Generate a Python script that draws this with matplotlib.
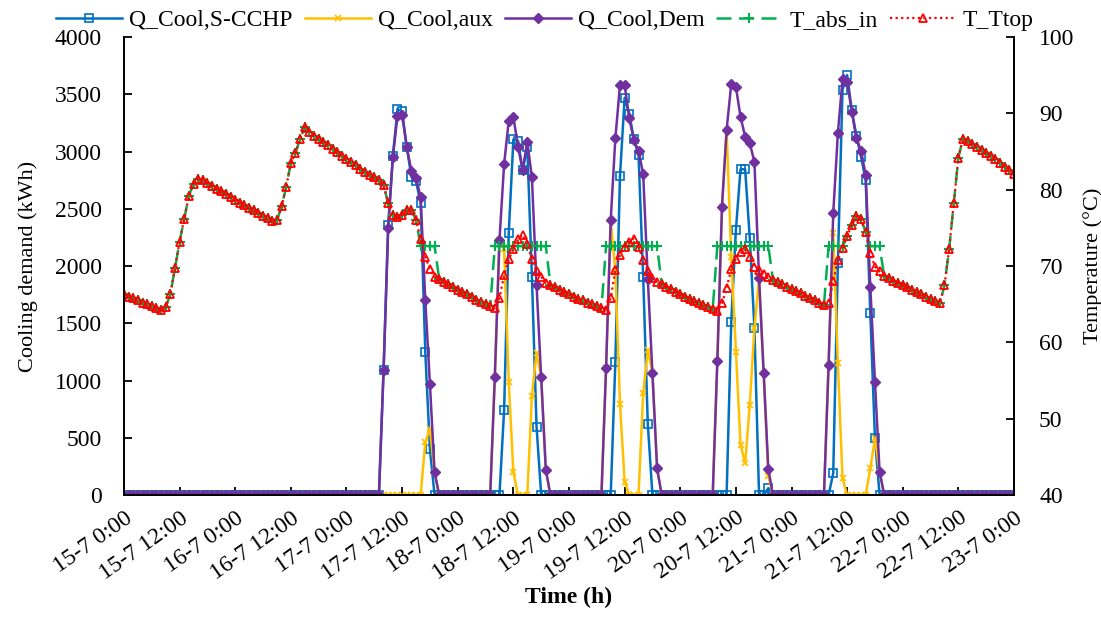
import matplotlib

matplotlib.use("Agg")
import matplotlib.pyplot as plt
import numpy as np

plt.rcParams["font.family"] = ["Liberation Serif", "DejaVu Serif"]

# hourly samples, 15-7 0:00 .. 23-7 0:00
HOURS = np.arange(193)
TICK_HOURS = list(range(0, 193, 12))
TICK_LABELS = [
    "15-7 0:00", "15-7 12:00", "16-7 0:00", "16-7 12:00", "17-7 0:00",
    "17-7 12:00", "18-7 0:00", "18-7 12:00", "19-7 0:00", "19-7 12:00",
    "20-7 0:00", "20-7 12:00", "21-7 0:00", "21-7 12:00", "22-7 0:00",
    "22-7 12:00", "23-7 0:00",
]

# cooling (kWh), operating hours only, zero elsewhere
Q_DEM = ([0] * 56
         + [1090, 2330, 2950, 3310, 3320, 3040, 2830, 2770, 2600, 1700, 970, 200]
         + [0] * 12
         + [1033, 2227, 2888, 3269, 3304, 3042, 2838, 3086, 2775, 1834, 1033, 218]
         + [0] * 12
         + [1112, 2402, 3115, 3581, 3581, 3290, 3100, 3007, 2803, 1890, 1068, 233]
         + [0] * 12
         + [1170, 2518, 3188, 3590, 3566, 3304, 3129, 3071, 2911, 1893, 1063, 224]
         + [0] * 12
         + [1135, 2460, 3159, 3631, 3610, 3348, 3115, 3007, 2795, 1819, 990, 204]
         + [0] * 29)

Q_SCCHP = ([0] * 56
           + [1090, 2360, 2960, 3370, 3350, 3040, 2780, 2740, 2550, 1250, 400, 0]
           + [0] * 12
           + [0, 0, 742, 2285, 3106, 3094, 2838, 3042, 1907, 597, 0, 0]
           + [0] * 12
           + [0, 0, 1164, 2786, 3470, 3330, 3106, 2969, 1907, 620, 0, 0]
           + [0] * 12
           + [0, 0, 0, 1514, 2314, 2845, 2845, 2242, 1456, 0, 0, 60]
           + [0] * 12
           + [0, 190, 2024, 3540, 3668, 3362, 3135, 2955, 2751, 1587, 495, 0]
           + [0] * 29)

Q_AUX = ([0] * 56
         + [0, 0, 0, 0, 0, 0, 0, 0, 0, 460, 580, 200]
         + [0] * 12
         + [1033, 2227, 2146, 990, 200, 0, 0, 0, 868, 1237, 1033, 218]
         + [0] * 12
         + [1112, 2402, 1951, 795, 116, 0, 0, 0, 888, 1266, 1068, 233]
         + [0] * 12
         + [1170, 2518, 3188, 2081, 1252, 440, 277, 790, 1456, 1893, 1063, 164]
         + [0] * 12
         + [1135, 2290, 1150, 146, 0, 0, 0, 0, 0, 232, 495, 204]
         + [0] * 29)

# tank top temperature (°C)
T_TTOP = [
    66.3, 66.0, 65.8, 65.5, 65.2, 65.0, 64.8, 64.5, 64.2, 64.6,
    66.3, 69.7, 73.2, 76.2, 79.2, 80.8, 81.4, 81.3,
    80.9, 80.5, 80.1, 79.8, 79.4, 79.0, 78.7, 78.3, 78.0, 77.6, 77.3, 77.0, 76.6, 76.3, 75.9,
    76.0, 77.8, 80.4, 83.5, 84.8, 86.7, 88.2,
    87.6, 87.1, 86.7, 86.2, 85.8, 85.3, 84.9, 84.4, 84.0, 83.6, 83.2, 82.7, 82.3, 81.9, 81.6, 81.3,
    80.6, 78.2, 76.7, 76.4, 76.7, 77.3, 77.3, 76.0, 73.6, 71.2, 69.6, 68.6,
    68.3, 67.9, 67.6, 67.2, 66.9, 66.6, 66.3, 66.0, 65.6, 65.3, 65.0, 64.7, 64.5,
    65.8, 68.8, 70.9, 72.2, 73.5, 74.1, 72.9, 70.9, 69.3, 68.6, 67.8,
    67.5, 67.2, 66.9, 66.6, 66.3, 66.0, 65.7, 65.5, 65.2, 65.0, 64.8, 64.5, 64.3,
    65.8, 69.5, 71.4, 72.5, 73.2, 73.6, 72.5, 70.8, 69.3, 68.4, 67.9,
    67.6, 67.3, 67.0, 66.6, 66.3, 66.0, 65.7, 65.4, 65.1, 64.9, 64.6, 64.4, 64.1,
    65.1, 67.1, 69.6, 70.9, 71.9, 72.2, 71.2, 69.9, 69.5, 69.0, 68.5,
    68.2, 67.9, 67.6, 67.3, 67.0, 66.7, 66.4, 66.1, 65.8, 65.5, 65.2, 64.9,
    65.2, 68.0, 70.8, 72.3, 73.9, 75.4, 76.5, 76.1, 74.5, 71.7, 69.9, 69.3,
    68.7, 68.4, 68.1, 67.8, 67.5, 67.2, 66.9, 66.6, 66.3, 66.0, 65.7, 65.4, 65.1,
    67.5, 72.2, 78.2, 84.2, 86.7,
    86.4, 86.0, 85.6, 85.2, 84.8, 84.4, 84.0, 83.5, 83.0, 82.6, 82.1,
]

# absorber inlet temperature (°C): follows the tank top, held at ~72.6 while running
T_ABS_IN = [
    66.3, 66.0, 65.8, 65.5, 65.2, 65.0, 64.8, 64.5, 64.2, 64.6,
    66.3, 69.7, 73.2, 76.2, 79.2, 80.8, 81.4, 81.3,
    80.9, 80.5, 80.1, 79.8, 79.4, 79.0, 78.7, 78.3, 78.0, 77.6, 77.3, 77.0, 76.6, 76.3, 75.9,
    76.0, 77.8, 80.4, 83.5, 84.8, 86.7, 88.2,
    87.6, 87.1, 86.7, 86.2, 85.8, 85.3, 84.9, 84.4, 84.0, 83.6, 83.2, 82.7, 82.3, 81.9, 81.6, 81.3,
    80.6, 78.2, 76.7, 76.4, 76.7, 77.3, 77.3, 76.0, 72.6, 72.6, 72.6, 72.6,
    68.3, 67.9, 67.6, 67.2, 66.9, 66.6, 66.3, 66.0, 65.6, 65.3, 65.0, 64.7,
    72.6, 72.6, 72.6, 72.6, 72.6, 72.6, 72.6, 72.6, 72.6, 72.6, 72.6, 72.6,
    67.5, 67.2, 66.9, 66.6, 66.3, 66.0, 65.7, 65.5, 65.2, 65.0, 64.8, 64.5,
    72.6, 72.6, 72.6, 72.6, 72.6, 72.6, 72.6, 72.6, 72.6, 72.6, 72.6, 72.6,
    67.6, 67.3, 67.0, 66.6, 66.3, 66.0, 65.7, 65.4, 65.1, 64.9, 64.6, 64.4,
    72.6, 72.6, 72.6, 72.6, 72.6, 72.6, 72.6, 72.6, 72.6, 72.6, 72.6, 72.6,
    68.2, 67.9, 67.6, 67.3, 67.0, 66.7, 66.4, 66.1, 65.8, 65.5, 65.2, 64.9,
    72.6, 72.6, 72.6, 72.6, 73.9, 75.4, 76.5, 76.1, 74.5, 72.6, 72.6, 72.6,
    68.7, 68.4, 68.1, 67.8, 67.5, 67.2, 66.9, 66.6, 66.3, 66.0, 65.7, 65.4, 65.1,
    67.5, 72.2, 78.2, 84.2, 86.7,
    86.4, 86.0, 85.6, 85.2, 84.8, 84.4, 84.0, 83.5, 83.0, 82.6, 82.1,
]

BLUE = "#0070C0"
YELLOW = "#FFC000"
PURPLE = "#7030A0"
GREEN = "#00B050"
RED = "#FF0000"
FS = 17

fig = plt.figure(figsize=(11.01, 6.28), dpi=100)
ax = fig.add_axes([0.1126, 0.2118, 0.8084, 0.7292])
ax2 = ax.twinx()

h1, = ax.plot(HOURS, Q_SCCHP, color=BLUE, lw=1.8, marker="s", ms=5.5, mfc="none", mec=BLUE, mew=1.2,
              label="Q_Cool,S-CCHP")
h2, = ax.plot(HOURS, Q_AUX, color=YELLOW, lw=1.8, marker="x", ms=5, mew=1.2, label="Q_Cool,aux")
h3, = ax.plot(HOURS, Q_DEM, color=PURPLE, lw=1.8, marker="D", ms=5, label="Q_Cool,Dem")
h4, = ax2.plot(HOURS, T_ABS_IN, color=GREEN, lw=1.8, ls=(0, (6, 3)), marker="+", ms=7, mew=1.5,
               label="T_abs_in")
h5, = ax2.plot(HOURS, T_TTOP, color=RED, lw=1.6, ls=(0, (1, 1.5)), marker="^", ms=6, mfc="none", mec=RED,
               mew=1.3, label="T_Ttop")

ax.set_xlim(0, 192)
ax.set_ylim(0, 4000)
ax.set_yticks(range(0, 4001, 500))
ax2.set_ylim(40, 100)
ax2.set_yticks(range(40, 101, 10))
ax.set_xticks(TICK_HOURS)
ax.set_xticklabels(TICK_LABELS, rotation=35, ha="right", rotation_mode="anchor")

for a in (ax, ax2):
    a.spines["top"].set_visible(False)
    for s in a.spines.values():
        s.set_linewidth(1.3)
        s.set_color("black")
    a.tick_params(direction="in", labelsize=FS, width=1.3, length=6)
ax.tick_params(axis="y", pad=16)
ax2.tick_params(axis="y", pad=18)
ax.tick_params(axis="x", pad=9)

ax.set_ylabel("Cooling demand (kWh)", fontsize=16, labelpad=12)
ax2.set_ylabel("Temperature (°C)", fontsize=16, labelpad=6)
ax.set_xlabel("Time (h)", fontsize=17, fontweight="bold", labelpad=2)

fig.legend(handles=[h1, h2, h3, h4, h5], loc="center", bbox_to_anchor=(0.495, 0.968), ncol=5, frameon=False,
           fontsize=FS, handlelength=2.8, columnspacing=0.5, handletextpad=0.3)

fig.savefig("out.png", dpi=100)
